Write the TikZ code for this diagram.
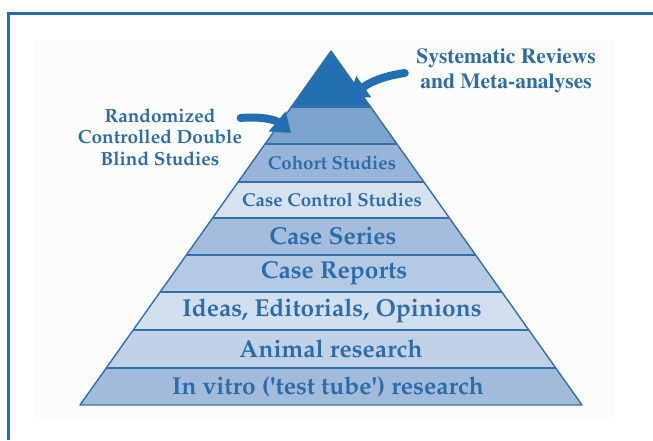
\documentclass[tikz,border=0pt]{standalone}
\usepackage[T1]{fontenc}
\usetikzlibrary{arrows.meta}

\definecolor{pyrdark}{RGB}{34,112,178}
\definecolor{pyrtext}{RGB}{44,108,168}
\definecolor{pyredge}{RGB}{50,112,170}
\definecolor{layA}{RGB}{124,162,206}
\definecolor{layB}{RGB}{152,180,216}
\definecolor{layC}{RGB}{214,226,240}
\definecolor{layD}{RGB}{164,189,220}
\definecolor{layE}{RGB}{180,201,228}
\definecolor{layF}{RGB}{210,223,239}
\definecolor{layG}{RGB}{192,209,232}
\definecolor{layH}{RGB}{162,187,219}

\newcommand{\palbf}{\fontfamily{ppl}\fontseries{b}\selectfont}
\newcommand{\timbf}{\fontfamily{ptm}\fontseries{b}\selectfont}

\tikzset{
	layer/.style={text=pyrtext, font=\palbf\fontsize{24.5}{26}\selectfont},
	smalllayer/.style={text=pyrtext, font=\palbf\fontsize{18.7}{20}\selectfont},
	sidelab/.style={text=pyrtext, align=center},
	edge/.style={pyredge, line width=1.4pt},
	bigarrow/.style={pyrdark, line width=8pt, line cap=round, -{Triangle[width=25pt,length=18pt]}}
}

\begin{document}
\begin{tikzpicture}[x=1pt, y=-1pt]
	\useasboundingbox (0,0) rectangle (653,440);
	\fill[black!1] (35,40) rectangle (615,418);
	% frame
	\draw[pyrdark, line width=3pt] (8,440) -- (8,13.5) -- (653,13.5);
	% pyramid layers
	\begin{scope}
		\clip (331,51) -- (80,405) -- (582,405) -- cycle;
		\foreach \ya/\yb/\col in {51/107/pyrdark, 107/144/layA, 144/182/layB, 182/218/layC,
			218/255/layD, 255/292/layE, 292/330/layF, 330/368/layG, 368/405/layH}
			\fill[\col] (0,\ya) rectangle (653,\yb);
		\foreach \y in {107,144,182,218,255,292,330,368}
			\draw[edge] (0,\y) -- (653,\y);
	\end{scope}
	\draw[edge, line join=round] (331,51) -- (80,405) -- (582,405) -- cycle;
	% labels
	\node[smalllayer] (cohort) at (332,163) {Cohort Studies};
	\node[smalllayer] (casecontrol) at (332,200) {Case Control Studies};
	\node[layer] (series) at (333,236.5) {Case Series};
	\node[layer] (reports) at (334,273.5) {Case Reports};
	\node[layer] (ideas) at (332,311) {Ideas, Editorials, Opinions};
	\node[layer] (animal) at (331,349) {Animal research};
	\node[layer] (invitro) at (328,386.5) {In vitro (\textquotesingle test tube\textquotesingle) research};
	% side notes and arrows
	\node[sidelab, font=\timbf\fontsize{21.5}{25}\selectfont] (sysrev) at (506,71) {Systematic Reviews\\and Meta-analyses};
	\node[sidelab, font=\palbf\fontsize{19}{21.5}\selectfont] (rct) at (160,137) {Randomized\\Controlled Double\\Blind Studies};
	\coordinate (systip) at (349,97);
	\coordinate (rcttip) at (291,133);
	\draw[bigarrow] ([xshift=-8pt,yshift=-2pt]sysrev.west) to[out=188,in=35] (systip);
	\draw[bigarrow] ([xshift=-5pt,yshift=19pt]rct.east) to[out=5,in=140] (rcttip);
\end{tikzpicture}
\end{document}
